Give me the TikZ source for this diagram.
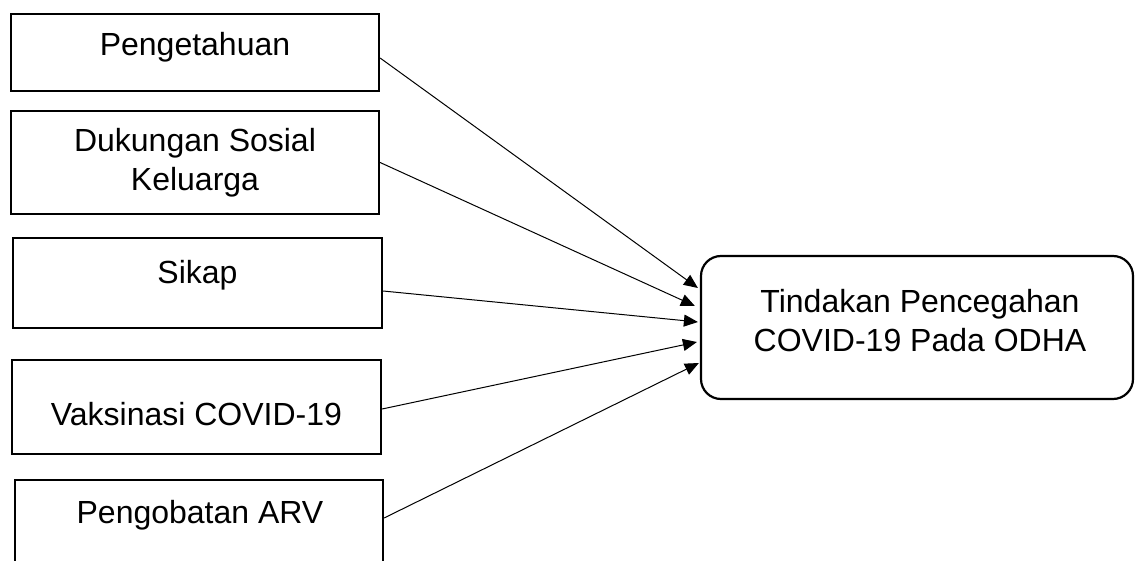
\documentclass[tikz,border=0pt]{standalone}
\usepackage{fontspec}
\setmainfont{Liberation Sans}
\usetikzlibrary{arrows.meta}
\begin{document}
\begin{tikzpicture}[x=1pt,y=-1pt,
  box/.style={draw=black, line width=2.2pt, inner sep=0pt},
  lbl/.style={font=\fontsize{32}{39}\selectfont, align=center, inner sep=0pt, anchor=base},
  conn/.style={draw=black, line width=1pt, -{Triangle[length=14pt,width=12pt]}}]
\clip (0,0) rectangle (1142,561);
\fill[white] (0,0) rectangle (1142,561);
% left boxes
\node[box, minimum width=368pt, minimum height=77pt]  (b1) at (195,52.5) {};
\node[box, minimum width=368pt, minimum height=103pt] (b2) at (195,162.5) {};
\node[box, minimum width=369pt, minimum height=90pt]  (b3) at (197.5,283) {};
\node[box, minimum width=369pt, minimum height=94pt]  (b4) at (196.5,407) {};
\node[box, minimum width=368pt, minimum height=120pt] (b5) at (199,540) {};
% right box
\node[box, rounded corners=20pt, minimum width=432pt, minimum height=143pt] (T) at (917,327.5) {};
% texts (base anchor = baseline of the last line)
\node[lbl] (t1) at (195,56) {Pengetahuan};
\node[lbl] (t2) at (195,191) {Dukungan Sosial\\Keluarga};
\node[lbl] (t3) at (197.5,283) {Sikap};
\node[lbl] (t4) at (196.5,425) {Vaksinasi COVID-19};
\node[lbl] (t5) at (200,523) {Pengobatan ARV};
\node[lbl] (tT) at (920,351) {Tindakan Pencegahan\\COVID-19 Pada ODHA};
% arrow end points
\coordinate (e1) at ([xshift=-2pt,yshift=39.5pt]T.west);
\coordinate (e2) at ([xshift=-5pt,yshift=21.5pt]T.west);
\coordinate (e3) at ([xshift=-2pt,yshift=5.5pt]T.west);
\coordinate (e4) at ([xshift=-3pt,yshift=-14.5pt]T.west);
\coordinate (e5) at ([xshift=-1pt,yshift=-35.5pt]T.west);
% connectors
\draw[conn] ([yshift=-5.5pt]b1.east) -- (e1);
\draw[conn] (b2.east) -- (e2);
\draw[conn] ([yshift=-8pt]b3.east) -- (e3);
\draw[conn] ([yshift=-2pt]b4.east) -- (e4);
\draw[conn] ([yshift=22pt]b5.east) -- (e5);
\end{tikzpicture}
\end{document}
